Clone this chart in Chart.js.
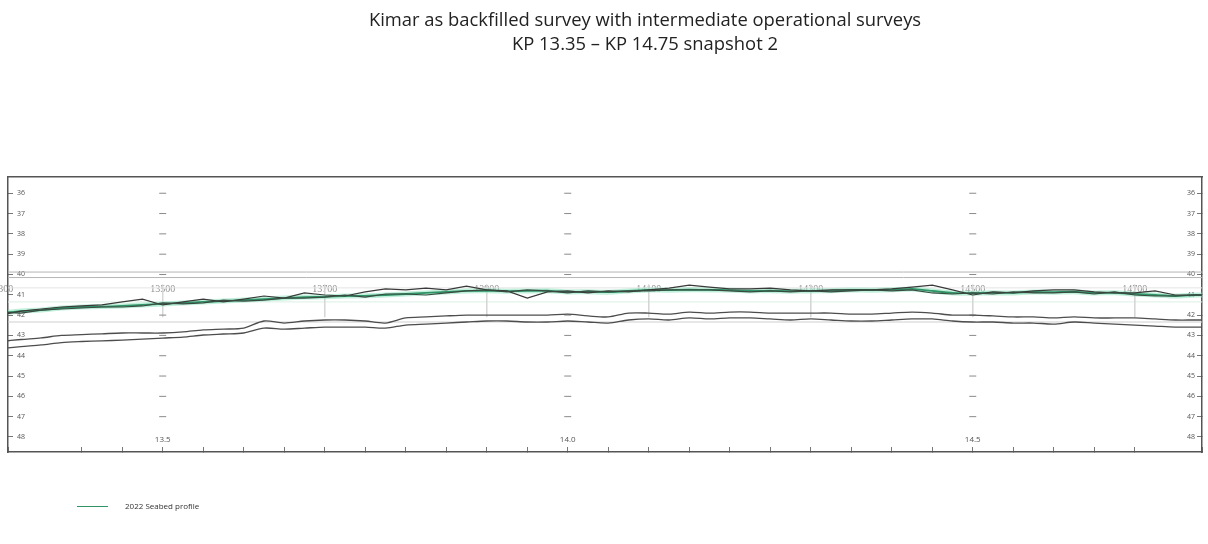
<!DOCTYPE html>
<html>
<head>
<meta charset="utf-8">
<title>Kimar as backfilled survey - KP 13.35 to KP 14.75</title>
<script src="https://cdn.jsdelivr.net/npm/chart.js"></script>
<style>
  body { margin: 0; background: #fff; }
  #wrap { position: relative; width: 1208px; height: 544px; overflow: hidden; }
  #profile { position: absolute; left: 0; top: 0; }
  .title { position: absolute; left: 245px; width: 800px; text-align: center;
           font-family: "Open Sans", sans-serif; font-size: 18.4px; line-height: 24px; color: #222; }
  #legend { position: absolute; left: 77px; top: 500px; font-family: "Open Sans", sans-serif;
            font-size: 8px; color: #333; }
  #legend span.swatch { position: absolute; left: 0; top: 6px; width: 31px; height: 0;
                        border-top: 1.5px solid #2f9466; }
  #legend span.label { position: absolute; left: 48px; top: 0; white-space: nowrap; }
</style>
</head>
<body>
<div id="wrap">
  <canvas id="profile" width="1208" height="544"></canvas>
  <div class="title" style="top:7px">Kimar as backfilled survey with intermediate operational surveys</div>
  <div class="title" style="top:31px">KP 13.35 – KP 14.75 snapshot 2</div>
  <div id="legend"><span class="swatch"></span><span class="label">2022 Seabed profile</span></div>
</div>

<script>
// chainage (KP, km) of the profile samples
const kp = [13.300, 13.325, 13.350, 13.375, 13.400, 13.425, 13.450, 13.475, 13.500, 13.525,
            13.550, 13.575, 13.600, 13.625, 13.650, 13.675, 13.700, 13.725, 13.750, 13.775,
            13.800, 13.825, 13.850, 13.875, 13.900, 13.925, 13.950, 13.975, 14.000, 14.025,
            14.050, 14.075, 14.100, 14.125, 14.150, 14.175, 14.200, 14.225, 14.250, 14.275,
            14.300, 14.325, 14.350, 14.375, 14.400, 14.425, 14.450, 14.475, 14.500, 14.525,
            14.550, 14.575, 14.600, 14.625, 14.650, 14.675, 14.700, 14.725, 14.750, 14.775,
            14.800];

// depths below datum (m)
const seabed2022 = [41.90, 41.80, 41.75, 41.65, 41.60, 41.58, 41.55, 41.50, 41.45, 41.40,
                    41.35, 41.31, 41.26, 41.21, 41.16, 41.11, 41.10, 41.06, 41.05, 41.01,
                    40.96, 40.91, 40.86, 40.81, 40.80, 40.82, 40.81, 40.80, 40.86, 40.85,
                    40.87, 40.81, 40.76, 40.77, 40.75, 40.76, 40.77, 40.81, 40.80, 40.82,
                    40.81, 40.80, 40.76, 40.77, 40.75, 40.71, 40.81, 40.91, 40.92, 40.90,
                    40.91, 40.86, 40.87, 40.85, 40.91, 40.90, 40.96, 41.01, 41.06, 41.01,
                    41.01];

const surveyA = [42.00, 41.80, 41.70, 41.60, 41.55, 41.50, 41.35, 41.21, 41.50, 41.35,
                 41.21, 41.35, 41.21, 41.06, 41.16, 40.91, 41.01, 41.06, 40.86, 40.71,
                 40.76, 40.67, 40.76, 40.57, 40.76, 40.81, 41.16, 40.86, 40.81, 40.91,
                 40.81, 40.86, 40.76, 40.67, 40.52, 40.62, 40.71, 40.71, 40.67, 40.76,
                 40.81, 40.76, 40.76, 40.76, 40.71, 40.62, 40.52, 40.76, 41.01, 40.86,
                 40.91, 40.81, 40.76, 40.76, 40.86, 40.91, 40.91, 40.81, 41.01, 41.01,
                 41.01];

const surveyB = [41.85, 41.90, 41.75, 41.70, 41.65, 41.60, 41.60, 41.55, 41.40, 41.45,
                 41.40, 41.26, 41.31, 41.26, 41.16, 41.16, 41.11, 41.01, 41.11, 40.96,
                 40.96, 41.01, 40.91, 40.81, 40.76, 40.86, 40.76, 40.81, 40.91, 40.81,
                 40.86, 40.81, 40.81, 40.76, 40.76, 40.76, 40.81, 40.86, 40.81, 40.86,
                 40.81, 40.86, 40.81, 40.76, 40.81, 40.76, 40.91, 40.96, 40.91, 40.96,
                 40.86, 40.91, 40.91, 40.86, 40.96, 40.86, 41.01, 41.06, 41.06, 41.01,
                 41.01];

const pipeTop = [43.30, 43.20, 43.12, 43.00, 42.96, 42.92, 42.88, 42.88, 42.88, 42.83,
                 42.73, 42.69, 42.64, 42.29, 42.39, 42.29, 42.24, 42.24, 42.29, 42.39,
                 42.14, 42.09, 42.04, 42.00, 42.00, 42.00, 42.00, 42.00, 41.95, 42.04,
                 42.09, 41.90, 41.90, 41.95, 41.85, 41.90, 41.85, 41.85, 41.90, 41.90,
                 41.90, 41.90, 41.95, 41.95, 41.90, 41.85, 41.90, 42.00, 42.00, 42.04,
                 42.09, 42.09, 42.14, 42.09, 42.14, 42.14, 42.14, 42.19, 42.24, 42.24,
                 42.24];

const pipeBottom = [43.65, 43.55, 43.47, 43.35, 43.30, 43.27, 43.23, 43.18, 43.13, 43.08,
                    42.98, 42.93, 42.88, 42.64, 42.69, 42.64, 42.59, 42.59, 42.59, 42.64,
                    42.49, 42.44, 42.39, 42.34, 42.29, 42.29, 42.34, 42.34, 42.29, 42.34,
                    42.39, 42.24, 42.19, 42.24, 42.14, 42.19, 42.14, 42.14, 42.19, 42.24,
                    42.19, 42.24, 42.29, 42.29, 42.24, 42.19, 42.19, 42.29, 42.34, 42.34,
                    42.39, 42.39, 42.44, 42.34, 42.39, 42.44, 42.49, 42.54, 42.59, 42.59,
                    42.59];

// axis ticks and labels
const yTicks = [36, 37, 38, 39, 40, 41, 42, 43, 44, 45, 46, 47, 48];
const yTickLabels = ['36', '37', '38', '39', '40', '41', '42', '43', '44', '45', '46', '47', '48'];
const kpMajor = [13.5, 14.0, 14.5];
const kpMajorLabels = ['13.5', '14.0', '14.5'];
const chainageKp = [13.3, 13.5, 13.7, 13.9, 14.1, 14.3, 14.5, 14.7];
const chainageLabels = ['13300', '13500', '13700', '13900', '14100', '14300', '14500', '14700'];
const markerDepths = [36, 37, 38, 39, 40, 42, 43, 44, 45, 46, 47];
const refLevels = [39.88, 40.15, 40.66, 41.35, 42.34];
const refColors = ['#b5b5b5', '#b5b5b5', '#e4e4e4', '#dcefe6', '#cfcfcf'];

const KP_MIN = 13.309, KP_MAX = 14.783;
const pts = arr => kp.map((k, i) => ({ x: k, y: arr[i] }));

const lineSet = (label, arr, color, width, order, tension) => ({
  label, data: pts(arr), borderColor: color, borderWidth: width,
  pointRadius: 0, tension, fill: false, order
});

const datasets = [];

refLevels.forEach((lvl, i) => {
  datasets.push({
    label: 'ref ' + lvl, data: [{ x: KP_MIN, y: lvl }, { x: KP_MAX, y: lvl }],
    borderColor: refColors[i], borderWidth: 1, pointRadius: 0, order: 20
  });
});

// short chainage marks inside the seabed band
const chainageMarks = [];
chainageKp.forEach(k => {
  chainageMarks.push({ x: k, y: 40.5 }, { x: k, y: 42.1 }, { x: k, y: null });
});
datasets.push({
  label: 'chainage marks', data: chainageMarks, borderColor: '#d6d6d6',
  borderWidth: 1, pointRadius: 0, spanGaps: false, order: 19
});

// column of small dashes at each major KP
const markers = [];
kpMajor.forEach(k => markerDepths.forEach(d => markers.push({ x: k, y: d })));
datasets.push({
  type: 'scatter', label: 'kp markers', data: markers, showLine: false,
  pointStyle: 'line', pointRadius: 3.5, borderColor: '#8a8a8a', borderWidth: 1, order: 18
});

datasets.push(lineSet('pipe top', pipeTop, '#4d4d4d', 1.3, 5, 0.3));
datasets.push(lineSet('pipe bottom', pipeBottom, '#4d4d4d', 1.3, 5, 0.3));
datasets.push(lineSet('seabed halo', seabed2022, 'rgba(140,225,190,0.55)', 5, 4, 0.1));
datasets.push(lineSet('2022 Seabed profile', seabed2022, '#2f9466', 1.8, 3, 0.1));
datasets.push(lineSet('survey A', surveyA, '#3a3a3a', 1.2, 2, 0));
datasets.push(lineSet('survey B', surveyB, '#3a4a42', 1.2, 1, 0));

const tickFont = { family: 'Open Sans', size: 7 };
const noPad = s => { s.paddingLeft = 0; s.paddingRight = 0; };
// tick marks point into the plot, so the frame axes take no room of their own
const flatX = s => { noPad(s); s.height = 0; };
const flatY = s => { s.width = 0; };

new Chart(document.getElementById('profile'), {
  type: 'line',
  data: { datasets },
  options: {
    responsive: false,
    animation: false,
    layout: { padding: { left: 8, right: 6, top: 177, bottom: 92 } },
    plugins: { legend: { display: false }, tooltip: { enabled: false } },
    scales: {
      x: {
        type: 'linear', position: 'bottom', min: KP_MIN, max: KP_MAX,
        ticks: { display: false, stepSize: 0.05 },
        grid: { drawOnChartArea: false, drawTicks: true, tickLength: -5, color: '#777' },
        border: { display: true, color: '#555', width: 1.5 },
        afterFit: flatX
      },
      xTop: {
        type: 'linear', position: 'top', min: KP_MIN, max: KP_MAX,
        ticks: { display: false },
        grid: { display: false, drawTicks: false },
        border: { display: true, color: '#555', width: 1.5 },
        afterFit: flatX
      },
      xKp: {
        type: 'linear', position: { y: 47.9 }, min: KP_MIN, max: KP_MAX,
        afterBuildTicks: s => { s.ticks = kpMajor.map(v => ({ value: v })); },
        ticks: { font: { family: 'Open Sans', size: 8 }, color: '#555', padding: 0,
                 autoSkip: false, maxRotation: 0,
                 callback: (v, i) => kpMajorLabels[i] },
        grid: { display: false, drawTicks: false },
        border: { display: false },
        afterFit: noPad
      },
      xCh: {
        type: 'linear', position: { y: 40.45 }, min: KP_MIN, max: KP_MAX,
        afterBuildTicks: s => { s.ticks = chainageKp.map(v => ({ value: v })); },
        ticks: { font: { family: 'Liberation Serif', size: 10 }, color: '#8f8f8f', padding: 0,
                 autoSkip: false, maxRotation: 0,
                 callback: (v, i) => chainageLabels[i] },
        grid: { display: false, drawTicks: false },
        border: { display: false },
        afterFit: noPad
      },
      y: {
        type: 'linear', position: 'left', reverse: true, min: 35.2, max: 48.74,
        afterBuildTicks: s => { s.ticks = yTicks.map(v => ({ value: v })); },
        ticks: { mirror: true, padding: 9, font: tickFont, color: '#555',
                 callback: (v, i) => yTickLabels[i] },
        grid: { drawOnChartArea: false, drawTicks: true, tickLength: -5, color: '#777' },
        border: { display: true, color: '#555', width: 1.5 },
        afterFit: flatY
      },
      y2: {
        type: 'linear', position: 'right', reverse: true, min: 35.2, max: 48.74,
        afterBuildTicks: s => { s.ticks = yTicks.map(v => ({ value: v })); },
        ticks: { mirror: true, padding: -7, font: tickFont, color: '#555',
                 callback: (v, i) => yTickLabels[i] },
        grid: { drawOnChartArea: false, drawTicks: true, tickLength: -5, color: '#777' },
        border: { display: true, color: '#555', width: 1.5 },
        afterFit: flatY
      }
    }
  }
});
</script>
</body>
</html>
